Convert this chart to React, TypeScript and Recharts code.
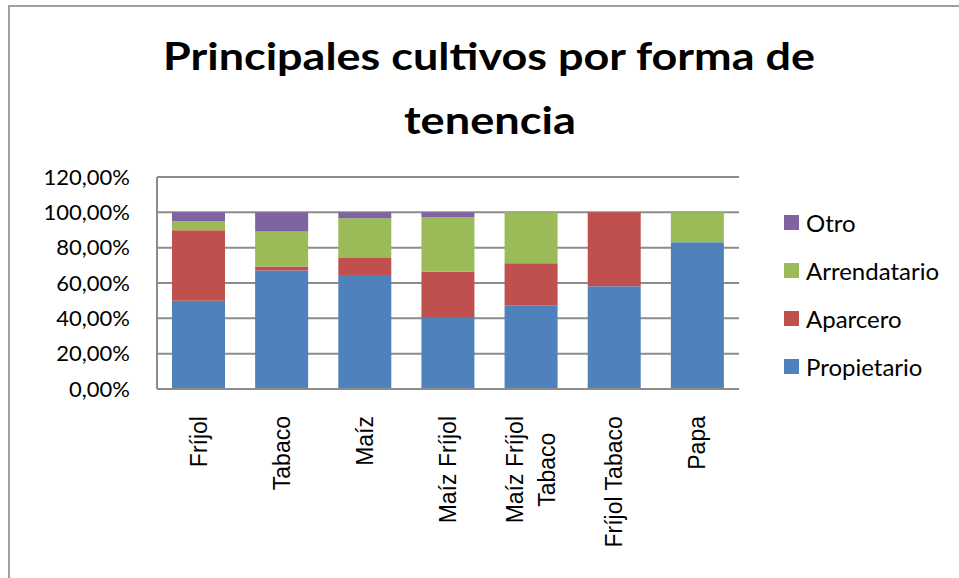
import { BarChart, Bar, XAxis, YAxis, CartesianGrid } from "recharts";

const categories = [
  "Fríjol",
  "Tabaco",
  "Maíz",
  "Maíz Fríjol",
  "Maíz Fríjol Tabaco",
  "Fríjol Tabaco",
  "Papa",
];
const propietario = [50.0, 67.1, 64.5, 40.8, 47.4, 58.1, 83.1];
const aparcero = [39.8, 2.3, 9.6, 25.6, 23.8, 41.9, 0];
const arrendatario = [5.1, 19.7, 22.5, 30.8, 28.8, 0, 16.9];
const otro = [5.1, 10.9, 3.4, 2.8, 0, 0, 0];
const yTicks = [0, 20, 40, 60, 80, 100, 120];

const series = [
  { key: "Propietario", color: "#4F81BD" },
  { key: "Aparcero", color: "#C0504D" },
  { key: "Arrendatario", color: "#9BBB59" },
  { key: "Otro", color: "#8064A2" },
];

const data = categories.map((name, i) => ({
  name,
  Propietario: propietario[i],
  Aparcero: aparcero[i],
  Arrendatario: arrendatario[i],
  Otro: otro[i],
}));

const GRID = "#8c8c8c";
const LABEL_SIZE = 23;
const LABEL_FONT = `${LABEL_SIZE}px 'Liberation Sans'`;

let canvas: HTMLCanvasElement | null = null;
const measure = (s: string) => {
  if (!canvas) canvas = document.createElement("canvas");
  const ctx = canvas.getContext("2d")!;
  ctx.font = LABEL_FONT;
  return ctx.measureText(s).width;
};

// Excel wraps the long label onto two lines
const wrap = (label: string) => {
  if (label.length <= 14) return [label];
  const words = label.split(" ");
  return [words.slice(0, -1).join(" "), words[words.length - 1]];
};

const CatTick = (props: any) => {
  const { x, y, payload } = props;
  const lines = wrap(payload.value);
  const maxW = Math.max(...lines.map(measure));
  const gap = 32;
  return (
    <g>
      {lines.map((line, i) => {
        const cx = x + (i - (lines.length - 1) / 2) * gap;
        const cy = y + maxW / 2;
        return (
          <text
            key={i}
            x={cx}
            y={cy}
            dy="0.35em"
            textAnchor="middle"
            transform={`rotate(-90 ${cx} ${cy})`}
            fontFamily="'Liberation Sans'"
            fontSize={LABEL_SIZE}
            fill="#000"
          >
            {line}
          </text>
        );
      })}
    </g>
  );
};

const fmt = (v: number) => `${v.toFixed(2).replace(".", ",")}%`;

export default function App() {
  return (
    <div
      style={{
        position: "fixed",
        left: 0,
        top: 0,
        width: 959,
        height: 578,
        overflow: "hidden",
        background: "#fff",
      }}
    >
      <div
        style={{
          position: "absolute",
          left: 8,
          top: 5,
          width: 1000,
          height: 700,
          borderTop: "2px solid #a0a0a0",
          borderLeft: "2px solid #a0a0a0",
        }}
      />
      <svg
        width={959}
        height={160}
        style={{ position: "absolute", left: 0, top: 0 }}
      >
        <text
          x={489}
          y={70}
          textAnchor="middle"
          fontFamily="Lato"
          fontWeight="bold"
          fontSize={38}
          textLength={652}
          lengthAdjust="spacingAndGlyphs"
        >
          Principales cultivos por forma de
        </text>
        <text
          x={490}
          y={134}
          textAnchor="middle"
          fontFamily="Lato"
          fontWeight="bold"
          fontSize={38}
          textLength={172}
          lengthAdjust="spacingAndGlyphs"
        >
          tenencia
        </text>
      </svg>
      <div style={{ position: "absolute", left: 0, top: 0 }}>
        <BarChart
          width={959}
          height={578}
          data={data}
          margin={{ top: 177, right: 220, bottom: 0, left: 0 }}
        >
          <CartesianGrid vertical={false} stroke={GRID} strokeWidth={2} />
          <XAxis
            dataKey="name"
            interval={0}
            height={189}
            tickSize={0}
            tickMargin={27}
            tickLine={false}
            axisLine={{ stroke: GRID, strokeWidth: 2 }}
            tick={(p: any) => <CatTick {...p} />}
          />
          <YAxis
            domain={[0, 120]}
            ticks={yTicks}
            width={157}
            tickSize={0}
            tickMargin={27}
            tickLine={false}
            axisLine={{ stroke: GRID, strokeWidth: 2 }}
            tickFormatter={fmt}
            tick={{ fontFamily: "Lato", fontSize: 22, fill: "#000" }}
          />
          {series.map((s) => (
            <Bar
              key={s.key}
              dataKey={s.key}
              stackId="a"
              fill={s.color}
              barSize={53}
              isAnimationActive={false}
            />
          ))}
        </BarChart>
      </div>
      <div style={{ position: "absolute", left: 784, top: 209 }}>
        {[...series].reverse().map((s) => (
          <div
            key={s.key}
            style={{
              display: "flex",
              alignItems: "center",
              height: 26,
              marginBottom: 22.3,
              fontFamily: "Lato",
              fontSize: 24,
              color: "#000",
            }}
          >
            <span
              style={{
                display: "inline-block",
                width: 15,
                height: 15,
                background: s.color,
                marginRight: 7,
              }}
            />
            {s.key}
          </div>
        ))}
      </div>
    </div>
  );
}
